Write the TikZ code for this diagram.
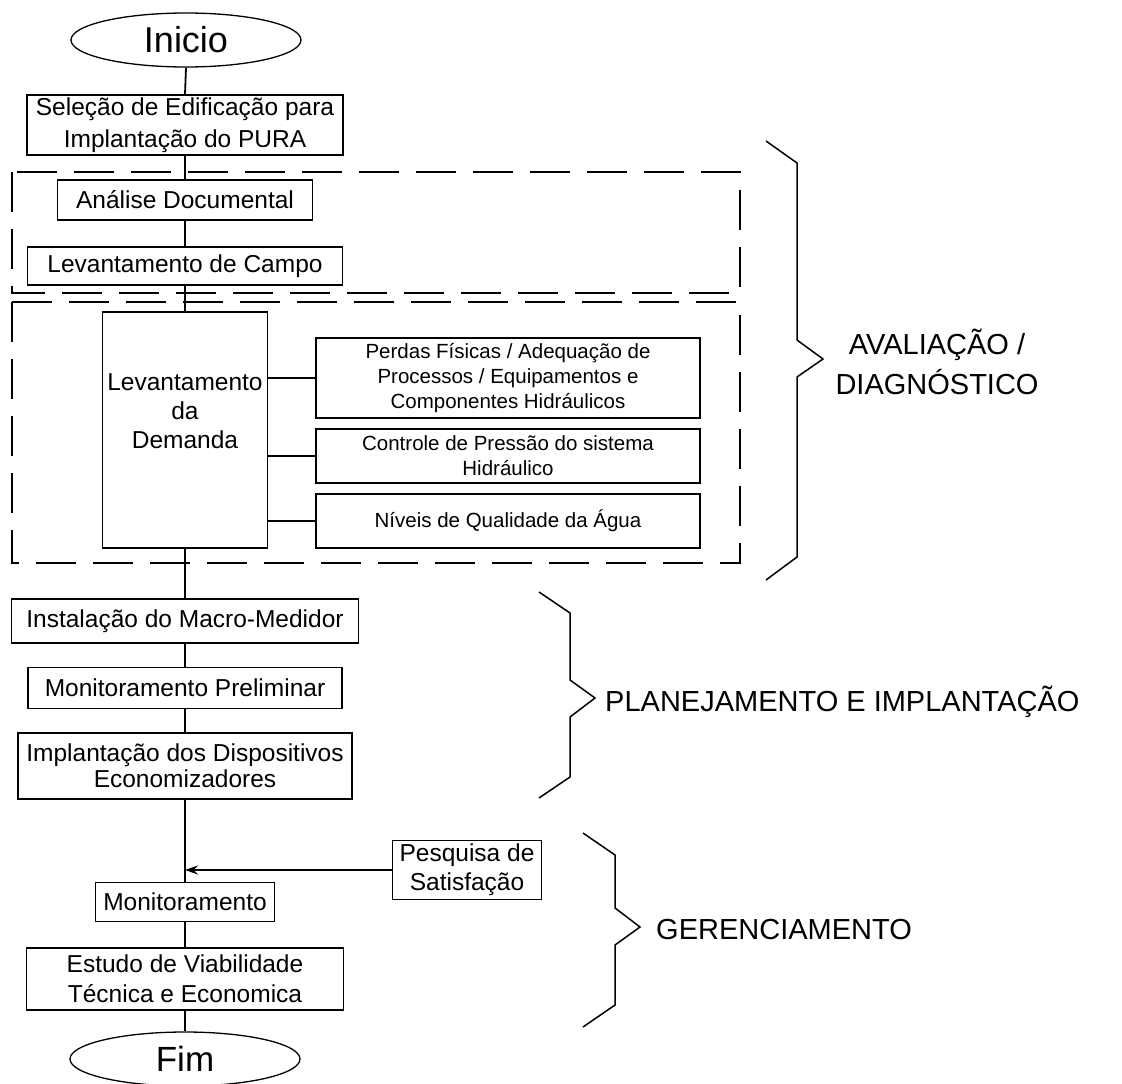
\documentclass[tikz,border=0pt]{standalone}
\usepackage{fontspec}
\setmainfont{Liberation Sans}
\usetikzlibrary{shapes.geometric,arrows.meta}

\tikzset{
  caixa/.style={draw, line width=1.8pt, align=center, inner sep=0pt, font=\fontsize{24.5}{30}\selectfont},
  subcaixa/.style={draw, line width=1.8pt, align=center, inner sep=0pt, minimum width=384pt, font=\fontsize{20.5}{24.7}\selectfont},
  terminal/.style={draw, ellipse, line width=1.3pt, inner sep=0pt, minimum width=230pt, minimum height=54pt, font=\fontsize{36}{40}\selectfont},
  grupo/.style={line width=1.8pt, dash pattern=on 40pt off 17pt},
  chave/.style={line width=1.5pt},
  rotulo/.style={align=center, inner sep=0pt, font=\fontsize{29}{40}\selectfont},
  liga/.style={line width=1.8pt},
  seta/.style={line width=1.8pt, -{Stealth[length=13pt,width=9pt]}}
}

\begin{document}
\begin{tikzpicture}[x=1pt,y=-1pt]
\useasboundingbox (0,0) rectangle (1122,1084);

\draw[grupo] (12,172) rectangle (740,293);
\draw[grupo] (12,302) rectangle (740,563);

\node[terminal] (ini) at (186,40) {Inicio};
\node[caixa, minimum width=316pt, minimum height=60pt, font=\fontsize{24.5}{32}\selectfont] (sel) at (185,125) {Seleção de Edificação para\\Implantação do PURA};
\node[caixa, minimum width=255pt, minimum height=40pt] (ana) at (185,200) {Análise Documental};
\node[caixa, minimum width=315pt, minimum height=38pt] (campo) at (185,266) {Levantamento de Campo};
\node[caixa, minimum width=165pt, minimum height=236pt] (dem) at (185,430) {};
\node[font=\fontsize{24.5}{29}\selectfont, align=center, inner sep=0pt] (demtxt) at (185,411) {Levantamento\\da\\Demanda};
\node[subcaixa, minimum height=80pt] (perdas) at (508,378) {Perdas Físicas / Adequação de\\Processos / Equipamentos e\\Componentes Hidráulicos};
\node[subcaixa, minimum height=54pt] (pressao) at (508,456) {Controle de Pressão do sistema\\Hidráulico};
\node[subcaixa, minimum height=54pt] (qualid) at (508,521) {Níveis de Qualidade da Água};
\node[caixa, minimum width=347pt, minimum height=44pt] (inst) at (185,621) {Instalação do Macro-Medidor};
\node[caixa, minimum width=314pt, minimum height=41pt] (monpre) at (185,688) {Monitoramento Preliminar};
\node[caixa, minimum width=334pt, minimum height=66pt, font=\fontsize{24.5}{26}\selectfont] (impl) at (185,766) {Implantação dos Dispositivos\\Economizadores};
\node[caixa, minimum width=149pt, minimum height=59pt, font=\fontsize{24.5}{29}\selectfont] (pesq) at (467,870) {Pesquisa de\\Satisfação};
\node[caixa, minimum width=179pt, minimum height=39pt] (mon) at (185,902) {Monitoramento};
\node[caixa, minimum width=317pt, minimum height=62pt] (est) at (185,979) {Estudo de Viabilidade\\Técnica e Economica};
\node[terminal, font=\fontsize{35}{40}\selectfont] (fim) at (185,1059) {Fim};

\draw[liga] (ini.south) -- (sel.north);
\draw[liga] (sel.south) -- (ana.north);
\draw[liga] (ana.south) -- (campo.north);
\draw[liga] (campo.south) -- (dem.north);
\draw[liga] (perdas.west -| dem.east) -- (perdas.west);
\draw[liga] (pressao.west -| dem.east) -- (pressao.west);
\draw[liga] (qualid.west -| dem.east) -- (qualid.west);
\draw[liga] (dem.south) -- (inst.north);
\draw[liga] (inst.south) -- (monpre.north);
\draw[liga] (monpre.south) -- (impl.north);
\draw[liga] (impl.south) -- (mon.north);
\draw[liga] (mon.south) -- (est.north);
\draw[liga] (est.south) -- (fim.north);
\draw[seta] (pesq.west) -- (pesq.west -| mon.north);

\draw[chave] (766,141) -- (797,163) -- (797,340) -- (823,359) -- (797,377) -- (797,557) -- (766,580);
\draw[chave] (539,592) -- (570,613) -- (570,680) -- (595,698) -- (570,717) -- (570,777) -- (539,798);
\draw[chave] (583,833) -- (615,855) -- (615,908) -- (640,927) -- (615,945) -- (615,1005) -- (583,1027);

\node[rotulo] (aval) at (937,362) {AVALIAÇÃO /\\DIAGNÓSTICO};
\node[rotulo, anchor=west] (plan) at (605,702) {PLANEJAMENTO E IMPLANTAÇÃO};
\node[rotulo, anchor=west] (ger) at (656,930) {GERENCIAMENTO};
\end{tikzpicture}
\end{document}
